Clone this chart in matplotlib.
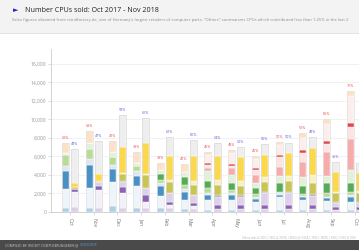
import matplotlib
matplotlib.use('Agg')
import matplotlib.pyplot as plt
import numpy as np

months = ['Oct', 'Nov', 'Dec', 'Jan', 'Feb', 'Mar', 'Apr', 'May', 'Jun', 'Jul', 'Aug', 'Sep', 'Oct']

# AMD segments (bottom -> top)
amd_light_blue = [450, 450, 600, 450, 400, 350, 250, 250, 200, 200, 200, 200, 200]
amd_pale_blue = [2050, 2100, 2650, 2350, 1350, 950, 1000, 1000, 900, 1400, 1100, 1000, 900]
amd_blue = [1900, 2500, 1350, 1100, 1050, 900, 550, 550, 300, 250, 300, 300, 550]
amd_pale_blue2 = [550, 700, 500, 500, 350, 300, 300, 200, 200, 150, 100, 100, 150]
amd_light_green = [1250, 1100, 850, 550, 300, 450, 500, 350, 350, 200, 250, 400, 400]
amd_green = [0, 0, 0, 0, 600, 800, 800, 800, 600, 970, 850, 1100, 970]
amd_pale_green = [150, 550, 500, 300, 450, 600, 1000, 850, 550, 730, 1000, 800, 1330]
amd_pink = [0, 0, 0, 0, 0, 0, 350, 700, 900, 1000, 1640, 2600, 3360]
amd_pale_pink = [0, 0, 0, 0, 0, 0, 350, 300, 500, 1000, 910, 850, 1340]
amd_red = [0, 0, 0, 0, 0, 0, 170, 200, 200, 260, 350, 350, 400]
amd_pale_pink2 = [0, 0, 0, 0, 0, 0, 930, 1200, 1000, 1040, 1300, 1800, 2900]
amd_peach = [1080, 1300, 1250, 1250, 760, 800, 300, 300, 300, 400, 500, 500, 600]

# Intel segments (bottom -> top)
intel_lavender = [500, 450, 400, 400, 450, 300, 300, 300, 300, 300, 300, 200, 200]
intel_pale_lavender = [1700, 1900, 1600, 700, 300, 350, 0, 0, 0, 0, 0, 0, 0]
intel_purple = [250, 500, 670, 740, 350, 300, 460, 450, 450, 460, 450, 300, 300]
intel_light_lavender = [0, 350, 600, 720, 900, 850, 900, 900, 1300, 1340, 1000, 500, 500]
intel_gray = [50, 50, 30, 0, 50, 50, 180, 150, 150, 100, 200, 100, 100]
intel_olive = [150, 150, 800, 1440, 1150, 1050, 1060, 1050, 1070, 1150, 1220, 900, 900]
intel_light_yellow = [0, 0, 100, 100, 260, 500, 560, 550, 530, 550, 830, 200, 250]
intel_yellow = [500, 700, 2860, 3400, 2590, 2600, 2540, 2500, 2360, 2500, 2900, 2100, 2000]
intel_others = [3630, 3600, 3440, 2600, 2090, 1800, 1400, 1100, 1190, 1100, 1170, 1140, 1050]

amd_pct = [52, 53, 42, 39, 39, 40, 46, 49, 45, 50, 51, 65, 71]
intel_pct = [48, 47, 58, 61, 62, 60, 54, 52, 55, 50, 49, 35, 29]

yticks = [0, 2000, 4000, 6000, 8000, 10000, 12000, 14000, 16000]

amd_series = [amd_light_blue, amd_pale_blue, amd_blue, amd_pale_blue2, amd_light_green,
              amd_green, amd_pale_green, amd_pink, amd_pale_pink, amd_red, amd_pale_pink2, amd_peach]
amd_cols = ['#aed0e5', '#edf4fa', '#4a90c4', '#dbe8f3', '#b6dc95', '#55ac55', '#e2f0da',
            '#f6abac', '#fde3e3', '#e1474a', '#fdeeee', '#fde1c6']
intel_series = [intel_lavender, intel_pale_lavender, intel_purple, intel_light_lavender,
                intel_gray, intel_olive, intel_light_yellow, intel_yellow, intel_others]
intel_cols = ['#d9cfe8', '#f3f0f8', '#8c62b5', '#dcd0ea', '#a8a8a8', '#c9c552', '#f6f1c4',
              '#fcd94c', '#eeeeee']

W, H = 359, 250
fig = plt.figure(figsize=(W / 100, H / 100), dpi=100)
fig.patch.set_facecolor('white')

# header band
fig.patches.append(plt.Rectangle((0, 1 - 33 / H), 1, 33 / H, transform=fig.transFigure,
                                 facecolor='#f3f3f3', edgecolor='none', zorder=0))
fig.lines.append(plt.Line2D([0, 1], [1 - 33 / H, 1 - 33 / H], transform=fig.transFigure,
                            color='#dddddd', lw=0.6))
# footer band
fig.patches.append(plt.Rectangle((0, 0), 1, 10 / H, transform=fig.transFigure,
                                 facecolor='#4a4a4a', edgecolor='none', zorder=0))

fig.text(12.5 / W, 1 - 10 / H, '\u25ba', color='#2424cc', fontsize=5, va='center', ha='left',
         family='DejaVu Sans')
fig.text(25 / W, 1 - 10.5 / H, 'Number CPUs sold: Oct 2017 - Nov 2018', color='#222222',
         fontsize=5.1, va='center', ha='left', family='Open Sans')
fig.text(12 / W, 1 - 20.5 / H,
         'Sales figures obtained from mindfactory.de, one of Germany\'s largest retailers of computer parts. '
         '"Others" summarizes CPUs which contributed less than 1.25% in the last 2',
         color='#8a8a8a', fontsize=2.95, va='center', ha='left', family='Open Sans')
fig.text(5 / W, 5 / H, 'COMPILED BY: REDDIT COMPUSERUNGEBOR @ ', color='#cccccc', fontsize=2.3,
         va='center', ha='left', family='Open Sans')
fig.text(80 / W, 5 / H, '12/03/2018', color='#5aa0e0', fontsize=2.3, va='center', ha='left',
         family='Open Sans')
fig.text(1 - 3 / W, 12.5 / H,
         'Others total: A: 7400, I: 7400, A: 7600K, I: 8050K, A: 7520K, I: 7500, I: 7800K, I: 8300, I: 7500, A: 7000',
         color='#b0b0b0', fontsize=1.8, va='center', ha='right', family='Open Sans')

ax = fig.add_axes([51 / W, (H - 212) / H, (W - 51) / W, 163 / H])
ax.set_facecolor('white')
x = np.arange(len(months))
off = 0.195
bw = 0.3

bottom = np.zeros(len(months))
for vals, c in zip(amd_series, amd_cols):
    v = np.array(vals, dtype=float)
    ax.bar(x - off, v, bw, bottom=bottom, color=c, edgecolor='white', linewidth=0.3, zorder=3)
    bottom += v
amd_tot = bottom.copy()
ax.bar(x - off, amd_tot, bw, fill=False, edgecolor='#e0e0e0', linewidth=0.5, zorder=4)

bottom = np.zeros(len(months))
for vals, c in zip(intel_series, intel_cols):
    v = np.array(vals, dtype=float)
    ax.bar(x + off, v, bw, bottom=bottom, color=c, edgecolor='white', linewidth=0.3, zorder=3)
    bottom += v
intel_tot = bottom.copy()
ax.bar(x + off, intel_tot, bw, fill=False, edgecolor='#d8d8d8', linewidth=0.5, zorder=4)

for i in range(len(months)):
    ax.annotate(f'{amd_pct[i]}%', (x[i] - off, amd_tot[i]), xytext=(0, 2.2), textcoords='offset points',
                ha='center', va='bottom', fontsize=2.7, color='#e8484b', family='Open Sans')
    ax.annotate(f'{intel_pct[i]}%', (x[i] + off, intel_tot[i]), xytext=(0, 2.2), textcoords='offset points',
                ha='center', va='bottom', fontsize=2.7, color='#5a5ae0', family='Open Sans')

ax.set_xlim(-0.8, 12.17)
ax.set_ylim(0, 17600)
ax.set_yticks(yticks)
ax.set_yticklabels([f'{t:,}' for t in yticks], fontsize=3.6, color='#9a9a9a', family='Open Sans')
ax.set_xticks(x)
ax.set_xticklabels(months, rotation=-90, fontsize=3.6, color='#777777', family='Open Sans')
ax.grid(axis='y', color='#ececec', linewidth=0.5, zorder=0)
ax.set_axisbelow(True)
for s in ['top', 'right']:
    ax.spines[s].set_visible(False)
ax.spines['left'].set_color('#cccccc')
ax.spines['bottom'].set_color('#cccccc')
ax.spines['left'].set_linewidth(0.6)
ax.spines['bottom'].set_linewidth(0.6)
ax.tick_params(axis='y', length=2, width=0.5, color='#cccccc', pad=1.5)
ax.tick_params(axis='x', length=2, width=0.5, color='#cccccc', pad=2)

fig.savefig('out.png', dpi=100)
